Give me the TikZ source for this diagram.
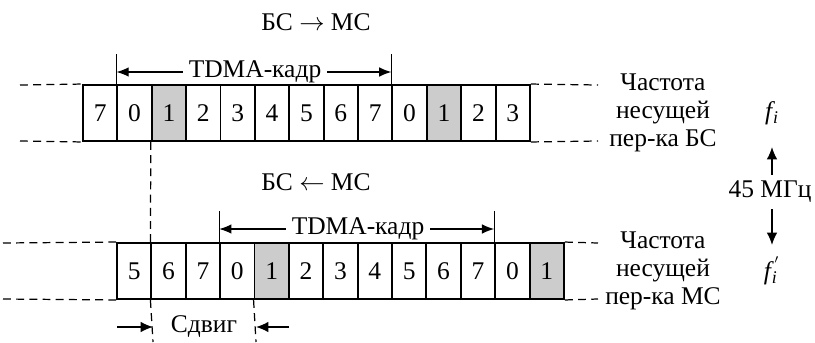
\documentclass[tikz,border=0pt]{standalone}
\usepackage{fontspec}
\setmainfont{Liberation Serif}[Ligatures=TeX]
\usepackage{tikz}
\usetikzlibrary{arrows.meta,positioning}

\begin{document}
\begin{tikzpicture}[
            x=0.02cm, y=-0.02cm,
            font=\rmfamily\fontsize{14.5}{15.9}\selectfont,
            cell/.style={rectangle, draw=black, line width=1.1pt, minimum width=0.6876cm, minimum height=1.12cm, inner sep=0pt},
            slot/.style={cell, fill=black!20},
            guide/.style={dash pattern=on 4.5pt off 3pt, line width=0.7pt},
            tick/.style={line width=0.6pt},
            dim/.style={-{Latex[length=7pt,width=5.5pt]}, line width=0.8pt},
            marker/.style={-{Latex[length=7pt,width=6pt]}, line width=0.8pt}
        ]
        \useasboundingbox (0,0) rectangle (815,342);

        % BS -> MS timeslots
        \foreach \d/\s [count=\i from 0] in {7/cell,0/cell,1/slot,2/cell,3/cell,4/cell,5/cell,6/cell,7/cell,0/cell,1/slot,2/cell,3/cell}
            \node[\s] (t\i) at ({83+34.38*(\i+0.5)},113) {\d};

        % BS <- MS timeslots
        \foreach \d/\s [count=\i from 0] in {5/cell,6/cell,7/cell,0/cell,1/slot,2/cell,3/cell,4/cell,5/cell,6/cell,7/cell,0/cell,1/slot}
            \node[\s] (b\i) at ({117+34.38*(\i+0.5)},271) {\d};

        \node (dl1) at (316,22) {БС $\rightarrow$ МС};
        \node (dl2) at (316,182) {БС $\leftarrow$ МС};

        % frame marks
        \node (fr1) at (255,72) {TDMA-кадр};
        \node (fr2) at (358,229) {TDMA-кадр};
        \draw[tick] (t1.north west) -- ++(0,-30);
        \draw[tick] (t9.north west) -- ++(0,-30);
        \draw[tick] (b3.north west) -- ++(0,-31);
        \draw[tick] (b11.north west) -- ++(0,-31);
        \draw[dim] (fr1.west) -- (fr1.west -| t1.north west);
        \draw[dim] (fr1.east) -- (fr1.east -| t9.north west);
        \draw[dim] (fr2.west) -- (fr2.west -| b3.north west);
        \draw[dim] (fr2.east) -- (fr2.east -| b11.north west);

        % carrier edges
        \coordinate (e1) at (20,85);
        \coordinate (e2) at (20,141);
        \coordinate (e3) at (3,243);
        \coordinate (e4) at (3,299);
        \draw[guide] (e1) -- (t0.north west);
        \draw[guide] (e2) -- (t0.south west);
        \draw[guide] (e3) -- (b0.north west);
        \draw[guide] (e4) -- (b0.south west);
        \draw[guide] (t12.north east) -- (598,85);
        \draw[guide] (t12.south east) -- (598,141);
        \draw[guide] (b12.north east) -- (598,243);
        \draw[guide] (b12.south east) -- (598,299);

        \node[align=center] (cf1) at (663,113) {Частота\\несущей\\пер-ка БС};
        \node[align=center] (cf2) at (663,271) {Частота\\несущей\\пер-ка МС};

        % duplex spacing
        \node (fi) at (772,113) {\itshape f\kern0.5pt\textsubscript{i}};
        \node (fj) at (772,271) {\itshape f\kern0.5pt\textsubscript{i}\kern-3.5pt\textsuperscript{\upshape\,$'$}};
        \node (gap) at (770,192) {45 МГц};
        \coordinate (up) at (772,147);
        \coordinate (dn) at (772,245);
        \draw[marker] (gap.north -| up) -- (up);
        \draw[marker] (gap.south -| dn) -- (dn);

        % timing offset
        \coordinate (o1) at (153,342);
        \coordinate (o2) at (256,342);
        \draw[guide] (t2.south west) -- (b1.north west);
        \draw[guide] (b1.south west) -- (o1);
        \draw[guide] (b4.south west) -- (o2);
        \node (sd) at (204,327) {Сдвиг};
        \coordinate (s1) at (117,327);
        \coordinate (s2) at (289,327);
        \draw[marker] (s1) -- (s1 -| o1);
        \draw[marker] (s2) -- (s2 -| o2);

    \end{tikzpicture}
\end{document}
